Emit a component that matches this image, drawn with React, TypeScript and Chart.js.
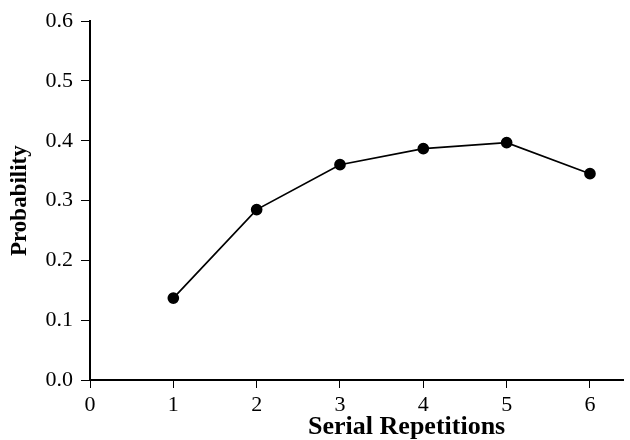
import React, { useEffect, useRef } from "react";
import { Chart, registerables } from "chart.js";

Chart.register(...registerables);

const repetitions = [1, 2, 3, 4, 5, 6];
const probability = [0.137, 0.285, 0.36, 0.387, 0.397, 0.345];
const xTicks = [0, 1, 2, 3, 4, 5, 6];
const yTicks = [0.0, 0.1, 0.2, 0.3, 0.4, 0.5, 0.6];
const xTitle = "Serial Repetitions";
const yTitle = "Probability";

const FONT = "'Liberation Serif', 'Times New Roman', serif";

const xTitlePlugin = {
  id: "xTitlePlugin",
  afterDraw(chart: any) {
    const ctx = chart.ctx;
    const s = chart.scales.x;
    ctx.save();
    ctx.font = `bold 26px ${FONT}`;
    ctx.fillStyle = "#000";
    ctx.textAlign = "center";
    ctx.textBaseline = "alphabetic";
    ctx.fillText(xTitle, s.getPixelForValue(3.8), 434);
    ctx.restore();
  },
};

export default function App() {
  const ref = useRef<HTMLCanvasElement | null>(null);

  useEffect(() => {
    if (!ref.current) return;
    const chart = new Chart(ref.current, {
      type: "line",
      data: {
        datasets: [
          {
            data: repetitions.map((x, i) => ({ x, y: probability[i] })),
            borderColor: "#000",
            backgroundColor: "#000",
            borderWidth: 1.7,
            pointRadius: 5,
            pointBackgroundColor: "#000",
            pointBorderColor: "#000",
            tension: 0,
          },
        ],
      },
      options: {
        responsive: false,
        animation: false,
        layout: { padding: { top: 20, right: 0, left: 0, bottom: 0 } },
        plugins: {
          legend: { display: false },
          tooltip: { enabled: false },
        },
        scales: {
          x: {
            type: "linear",
            min: 0,
            max: 6.4,
            afterBuildTicks: (scale: any) => {
              scale.ticks = xTicks.map((v) => ({ value: v }));
            },
            afterFit: (scale: any) => {
              scale.height = 60;
            },
            border: { display: true, color: "#000", width: 2 },
            grid: {
              display: true,
              drawOnChartArea: false,
              drawTicks: true,
              tickLength: 8,
              color: "#000",
              lineWidth: 1,
            },
            ticks: {
              color: "#000",
              font: { family: FONT, size: 22 },
              padding: 4,
              maxRotation: 0,
              callback: (v: any) => String(v),
            },
          },
          y: {
            type: "linear",
            min: 0,
            max: 0.6,
            afterBuildTicks: (scale: any) => {
              scale.ticks = yTicks.map((v) => ({ value: v }));
            },
            afterFit: (scale: any) => {
              scale.width = 90;
            },
            border: { display: true, color: "#000", width: 2 },
            grid: {
              display: true,
              drawOnChartArea: false,
              drawTicks: true,
              tickLength: 9,
              color: "#000",
              lineWidth: 1,
            },
            title: {
              display: true,
              text: yTitle,
              color: "#000",
              font: { family: FONT, size: 23, weight: "bold" },
              padding: { top: 6, bottom: 0 },
            },
            ticks: {
              color: "#000",
              font: { family: FONT, size: 22 },
              padding: 8,
              callback: (v: any) => Number(v).toFixed(1),
            },
          },
        },
      },
      plugins: [xTitlePlugin],
    });
    return () => chart.destroy();
  }, []);

  return (
    <div style={{ position: "fixed", left: 0, top: 0, width: 630, height: 440, background: "#fff" }}>
      <canvas ref={ref} width={630} height={440} style={{ display: "block" }} />
    </div>
  );
}
